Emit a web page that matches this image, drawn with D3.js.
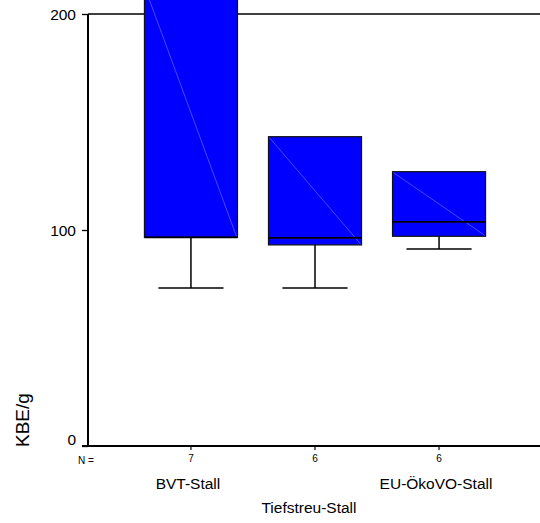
<!DOCTYPE html>
<html>
<head>
<meta charset="utf-8">
<script src="https://cdn.jsdelivr.net/npm/d3@7/dist/d3.min.js"></script>
<style>
  html, body { margin: 0; padding: 0; background: #fff; }
  svg { display: block; font-family: "Liberation Sans", Arial, sans-serif; }
</style>
</head>
<body>
<svg id="chart" width="540" height="523"></svg>
<script>
// ---- data ----
const categories = ["BVT-Stall", "Tiefstreu-Stall", "EU-ÖkoVO-Stall"];
const counts = [7, 6, 6];
const q1Values = [96.6, 93.1, 97.1];
const medianValues = [96.6, 96.4, 103.8];
const q3Values = [212, 143.2, 127.0];
const whiskerLow = [73.1, 73.1, 91.2];
const whiskerHigh = [250, 143.2, 127.0];
const yTicks = [0, 100, 200];
const yLabel = "KBE/g";

(function () {
const svg = d3.select("#chart");
const mLeft = 88, mRight = 542, mTop = 14, mBottom = 446;

const x = d3.scaleBand().domain(categories).range([mLeft, mRight]).paddingInner(0).paddingOuter(0.33);
const y = d3.scaleLinear().domain([0, 200]).range([mBottom, mTop]);
const bw = x.bandwidth();
const cx = c => x(c) + bw / 2;

// frame line at top (200)
svg.append("line")
  .attr("x1", mLeft).attr("x2", mRight)
  .attr("y1", y(200)).attr("y2", y(200))
  .attr("stroke", "#000").attr("stroke-width", 1.5);

// boxes
const boxW = bw * 0.75, capW = bw * 0.525;
categories.forEach((c, i) => {
  const g = svg.append("g");
  const xc = cx(c);
  g.append("line").attr("x1", xc).attr("x2", xc)
    .attr("y1", y(q1Values[i])).attr("y2", y(whiskerLow[i]))
    .attr("stroke", "#000").attr("stroke-width", 1.5);
  g.append("line").attr("x1", xc - capW / 2).attr("x2", xc + capW / 2)
    .attr("y1", y(whiskerLow[i])).attr("y2", y(whiskerLow[i]))
    .attr("stroke", "#000").attr("stroke-width", 1.5);
  if (whiskerHigh[i] > q3Values[i]) {
    g.append("line").attr("x1", xc).attr("x2", xc)
      .attr("y1", y(q3Values[i])).attr("y2", y(whiskerHigh[i]))
      .attr("stroke", "#000").attr("stroke-width", 1.5);
    g.append("line").attr("x1", xc - capW / 2).attr("x2", xc + capW / 2)
      .attr("y1", y(whiskerHigh[i])).attr("y2", y(whiskerHigh[i]))
      .attr("stroke", "#000").attr("stroke-width", 1.5);
  }
  const x0 = xc - boxW / 2, x1 = xc + boxW / 2;
  const yT = y(q3Values[i]), yB = y(q1Values[i]);
  g.append("rect").attr("x", x0).attr("y", yT)
    .attr("width", boxW).attr("height", yB - yT)
    .attr("fill", "#0000ff").attr("stroke", "#111").attr("stroke-width", 1.2);
  g.append("line").attr("x1", x0 + 1).attr("y1", yT + 1)
    .attr("x2", x1 - 1).attr("y2", yB - 1)
    .attr("stroke", "#7a7aff").attr("stroke-width", 0.6);
  g.append("line").attr("x1", x0).attr("x2", x1)
    .attr("y1", y(medianValues[i])).attr("y2", y(medianValues[i]))
    .attr("stroke", "#000").attr("stroke-width", 1.8);
});

// y axis
const yAxis = d3.axisLeft(y).tickValues(yTicks).tickSize(6).tickPadding(6).tickSizeOuter(0);
const yg = svg.append("g").attr("transform", `translate(${mLeft},0)`).call(yAxis);
yg.select(".domain").remove();
yg.selectAll(".tick line").attr("stroke", "#000").attr("stroke-width", 1.3);
yg.selectAll(".tick text").attr("font-size", "15.5px").attr("fill", "#000")
  .attr("font-family", "'Liberation Sans', Arial, sans-serif")
  .attr("dy", d => d === 0 ? "-0.1em" : "0.34em");

// x axis
const xAxis = d3.axisBottom(x).tickSize(4).tickPadding(5).tickSizeOuter(0)
  .tickFormat((d, i) => counts[i]);
const xg = svg.append("g").attr("transform", `translate(0,${mBottom})`).call(xAxis);
xg.select(".domain").remove();
xg.selectAll(".tick line").attr("stroke", "#000").attr("stroke-width", 1.2);
xg.selectAll(".tick text").attr("font-size", "10px").attr("fill", "#000")
  .attr("font-family", "'Liberation Sans', Arial, sans-serif");

// axis lines
svg.append("line").attr("x1", mLeft).attr("x2", mLeft).attr("y1", y(200)).attr("y2", mBottom)
  .attr("stroke", "#000").attr("stroke-width", 2);
svg.append("line").attr("x1", mLeft - 6).attr("x2", mRight).attr("y1", mBottom).attr("y2", mBottom)
  .attr("stroke", "#000").attr("stroke-width", 2);

// N = label
svg.append("text").attr("x", mLeft - 2).attr("y", 463.5)
  .attr("text-anchor", "middle").attr("font-size", "10px").text("N =");

// category labels (staggered)
categories.forEach((c, i) => {
  svg.append("text")
    .attr("x", cx(c) - (i === 1 ? 6 : 3))
    .attr("y", i === 1 ? 513 : 489)
    .attr("text-anchor", "middle").attr("font-size", "15.5px")
    .text(c);
});

// y label
svg.append("text").attr("transform", `translate(29,447) rotate(-90)`)
  .attr("text-anchor", "start").attr("font-size", "19px").text(yLabel);
})();
</script>
</body>
</html>
